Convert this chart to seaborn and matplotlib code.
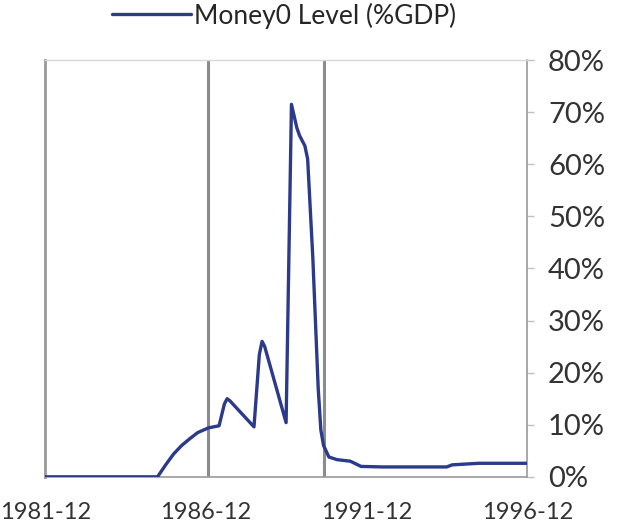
import pandas as pd
import matplotlib.pyplot as plt
import matplotlib.dates as mdates
import seaborn as sns

# values (% of GDP)
dates = ['1981-12', '1983-06', '1985-06', '1985-09', '1985-12', '1986-03',
         '1986-06', '1986-09', '1987-01', '1987-05', '1987-07', '1987-08',
         '1987-09', '1988-06', '1988-08', '1988-09', '1988-10', '1989-06',
         '1989-08', '1989-10', '1989-11', '1990-01', '1990-02', '1990-04',
         '1990-06', '1990-07', '1990-08', '1990-10', '1991-01', '1991-06',
         '1991-10', '1992-06', '1993-06', '1994-06', '1994-08', '1995-06',
         '1996-06', '1996-12']
level = [0.0, 0.0, 0.0, 2.3, 4.4, 6.0,
         7.3, 8.5, 9.4, 9.8, 14.0, 15.0,
         14.6, 9.6, 23.5, 26.0, 25.0, 10.4,
         71.5, 67.0, 65.5, 63.5, 61.0, 42.0,
         17.0, 9.0, 6.0, 3.8, 3.3, 3.0,
         2.0, 1.9, 1.9, 1.9, 2.3, 2.6,
         2.6, 2.6]
event_dates = ['1987-01', '1990-08']
tick_dates = ['1981-12', '1986-12', '1991-12', '1996-12']
y_ticks = [0, 10, 20, 30, 40, 50, 60, 70, 80]

df = pd.DataFrame({'date': pd.to_datetime(dates), 'level': level})

sns.set_style('white')
plt.rcParams['font.family'] = ['Lato', 'DejaVu Sans']

fig = plt.figure(figsize=(6.18, 5.31), dpi=100)
ax = fig.add_axes([0.073, 0.102, 0.78, 0.785])

for d in event_dates:
    ax.axvline(pd.to_datetime(d), color='#8c8c8c', lw=2.2, zorder=1)

sns.lineplot(data=df, x='date', y='level', ax=ax, color='#2b3a8a',
             lw=2.4, label='Money0 Level (%GDP)', zorder=3)

ax.set_xlim(pd.to_datetime('1981-12'), pd.to_datetime('1996-12'))
ax.set_ylim(0, 80)
ax.set_xticks(pd.to_datetime(tick_dates))
ax.xaxis.set_major_formatter(mdates.DateFormatter('%Y-%m'))
ax.set_yticks(y_ticks)
ax.set_yticklabels([f'{v}%' for v in y_ticks])
ax.yaxis.tick_right()
ax.set_xlabel('')
ax.set_ylabel('')

ax.tick_params(axis='both', which='major', colors='#333333',
               length=5, width=1, direction='out')
ax.tick_params(axis='x', color='#c0c0c0', pad=13, labelsize=17)
ax.tick_params(axis='y', color='#c0c0c0', pad=10, labelsize=21)

for side in ['left', 'right', 'bottom']:
    ax.spines[side].set_color('#9a9a9a')
    ax.spines[side].set_linewidth(1.2)
ax.spines['left'].set_linewidth(2.0)
ax.spines['top'].set_color('#d8d8d8')
ax.spines['top'].set_linewidth(1.0)

ax.get_legend().remove()
h, l = ax.get_legend_handles_labels()
fig.legend(h, l, loc='upper center', bbox_to_anchor=(0.46, 1.04),
           frameon=False, fontsize=19, handlelength=3.0, handletextpad=0.1)
fig.savefig('out.png', dpi=100)
